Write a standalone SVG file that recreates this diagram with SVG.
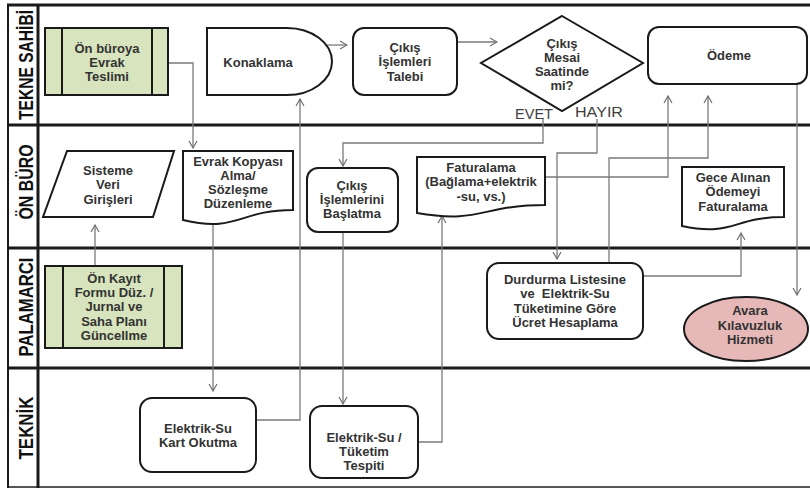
<svg xmlns="http://www.w3.org/2000/svg" width="810" height="492" viewBox="0 0 810 492">
  <defs>
    <marker id="arrow" viewBox="0 0 9 10" markerWidth="9" markerHeight="10" refX="8" refY="5" orient="auto" markerUnits="userSpaceOnUse">
      <path d="M1,1 L8,5 L1,9" fill="none" stroke="#707070" stroke-width="1.2"/>
    </marker>
    <style>
      .lane { stroke: #1a1a1a; stroke-width: 3; fill: none; }
      .edge { stroke: #1a1a1a; stroke-width: 2; fill: none; }
      .lbl { font-family: "Liberation Sans", Arial, sans-serif; font-weight: bold; font-size: 20px; fill: #111; text-anchor: middle; }
      .box { fill: #fff; stroke: #1a1a1a; stroke-width: 2; }
      .green { fill: #d7e4bd; stroke: #1a1a1a; stroke-width: 2; }
      .pink { fill: #e6b9b8; stroke: #1a1a1a; stroke-width: 2; }
      .t { font-family: "Liberation Sans", Arial, sans-serif; font-weight: bold; font-size: 13px; fill: #333; text-anchor: middle; white-space: pre; }
      .yn { font-family: "Liberation Sans", Arial, sans-serif; font-size: 15.5px; fill: #404040; }
      .c { stroke: #7a7a7a; stroke-width: 1.3; fill: none; }
      .ca { stroke: #7a7a7a; stroke-width: 1.3; fill: none; marker-end: url(#arrow); }
    </style>
  </defs>
  <rect width="810" height="492" fill="#fff"/>

  <!-- swimlane frame -->
  <g id="lanes">
    <line class="lane" x1="7" y1="5" x2="810" y2="5"/>
    <line class="lane" x1="7" y1="125" x2="810" y2="125"/>
    <line class="lane" x1="7" y1="248" x2="810" y2="248"/>
    <line class="lane" x1="7" y1="368" x2="810" y2="368"/>
    <line x1="7" y1="487" x2="810" y2="487" stroke="#555" stroke-width="2"/>
    <line class="edge" x1="8" y1="4" x2="8" y2="488"/>
    <line class="lane" x1="38" y1="4" x2="38" y2="488"/>
    <text class="lbl" transform="translate(33,65) rotate(-90)" textLength="110" lengthAdjust="spacingAndGlyphs">TEKNE SAHİBİ</text>
    <text class="lbl" transform="translate(33,182) rotate(-90)" textLength="75" lengthAdjust="spacingAndGlyphs">ÖN BÜRO</text>
    <text class="lbl" transform="translate(33,307) rotate(-90)" textLength="99" lengthAdjust="spacingAndGlyphs">PALAMARCI</text>
    <text class="lbl" transform="translate(33,428) rotate(-90)" textLength="63" lengthAdjust="spacingAndGlyphs">TEKNİK</text>
  </g>

  <!-- connectors -->
  <g id="connectors">
    <polyline class="ca" points="168,63 193,63 193,148"/>
    <polyline class="ca" points="213,216 213,391"/>
    <polyline class="ca" points="256,420 300,420 300,99"/>
    <polyline class="ca" points="327,45 347,45"/>
    <polyline class="ca" points="457,42 497,42"/>
    <polyline class="ca" points="543,118 543,143 343,143 343,166"/>
    <polyline class="ca" points="597,119 597,153 557,153 557,259"/>
    <polyline class="ca" points="418,442 442,442 442,216"/>
    <polyline class="ca" points="545,177 668,177 668,96"/>
    <polyline class="ca" points="609,263 609,158 708,158 708,96"/>
    <polyline class="ca" points="643,276 741,276 741,233"/>
    <polyline class="ca" points="797,84 797,295"/>
    <polyline class="ca" points="95,266 95,225"/>
    <polyline class="ca" points="343,232 343,404"/>
    <text class="yn" x="515" y="119" textLength="38" lengthAdjust="spacingAndGlyphs">EVET</text>
    <text class="yn" x="575" y="117" textLength="48" lengthAdjust="spacingAndGlyphs">HAYIR</text>
  </g>

  <!-- Tekne Sahibi lane -->
  <g id="on-buroya-evrak">
    <rect class="green" x="45" y="28" width="123" height="67"/>
    <line class="edge" x1="62" y1="28" x2="62" y2="95"/>
    <line class="edge" x1="152" y1="28" x2="152" y2="95"/>
    <text class="t" x="107" y="52.5">Ön büroya</text>
    <text class="t" x="107" y="66.5">Evrak</text>
    <text class="t" x="107" y="80.5">Teslimi</text>
  </g>
  <g id="konaklama">
    <path class="box" d="M207,28 L287,28 A45,33.5 0 0 1 287,95 L207,95 Z"/>
    <text class="t" x="258" y="66.5">Konaklama</text>
  </g>
  <g id="cikis-talebi">
    <rect class="box" x="353" y="28" width="104" height="67" rx="11"/>
    <text class="t" x="405" y="51.5">Çıkış</text>
    <text class="t" x="405" y="66">İşlemleri</text>
    <text class="t" x="405" y="80.5">Talebi</text>
  </g>
  <g id="mesai-karar">
    <polygon class="box" points="562,16 643,63 562,111 481,63"/>
    <text class="t" x="562" y="47.5">Çıkış</text>
    <text class="t" x="562" y="61.5">Mesai</text>
    <text class="t" x="562" y="75.5">Saatinde</text>
    <text class="t" x="562" y="89.5">mi?</text>
  </g>
  <g id="odeme">
    <rect class="box" x="648" y="27" width="159" height="57" rx="11"/>
    <text class="t" x="729" y="59.5">Ödeme</text>
  </g>

  <!-- Ön Büro lane -->
  <g id="sisteme-veri">
    <polygon class="box" points="67,151 174,151 153,217 43,217"/>
    <text class="t" x="108" y="174.5">Sisteme</text>
    <text class="t" x="108" y="189">Veri</text>
    <text class="t" x="108" y="203.5">Girişleri</text>
  </g>
  <g id="evrak-kopyasi">
    <path class="box" d="M183,151 L293,151 L293,210 C238,210 238,233 183,220 Z"/>
    <text class="t" x="238" y="166">Evrak Kopyası</text>
    <text class="t" x="238" y="180">Alma/</text>
    <text class="t" x="238" y="194">Sözleşme</text>
    <text class="t" x="238" y="208">Düzenleme</text>
  </g>
  <g id="cikis-baslatma">
    <rect class="box" x="307" y="168" width="91" height="64" rx="11"/>
    <text class="t" x="352" y="189.5">Çıkış</text>
    <text class="t" x="352" y="203.5">İşlemlerini</text>
    <text class="t" x="352" y="218">Başlatma</text>
  </g>
  <g id="faturalama">
    <path class="box" d="M417,157 L545,157 L545,205 C481,205 481,224 417,213 Z"/>
    <text class="t" x="481" y="171.5">Faturalama</text>
    <text class="t" x="481" y="186">(Bağlama+elektrik</text>
    <text class="t" x="481" y="201">-su, vs.)</text>
  </g>
  <g id="gece-faturalama">
    <path class="box" d="M682,167 L784,167 L784,217 C733,217 733,237 682,226 Z"/>
    <text class="t" x="733" y="181.5">Gece Alınan</text>
    <text class="t" x="733" y="196">Ödemeyi</text>
    <text class="t" x="733" y="210.5">Faturalama</text>
  </g>

  <!-- Palamarcı lane -->
  <g id="on-kayit">
    <rect class="green" x="45" y="266" width="137" height="82"/>
    <line class="edge" x1="63" y1="266" x2="63" y2="348"/>
    <line class="edge" x1="164" y1="266" x2="164" y2="348"/>
    <text class="t" x="114" y="282.5">Ön Kayıt</text>
    <text class="t" x="114" y="296.5">Formu Düz. /</text>
    <text class="t" x="114" y="311">Jurnal ve</text>
    <text class="t" x="114" y="325.5">Saha Planı</text>
    <text class="t" x="114" y="339.5">Güncellme</text>
  </g>
  <g id="durdurma-listesi">
    <rect class="box" x="487" y="263" width="156" height="76" rx="12"/>
    <text class="t" x="565" y="283.5">Durdurma Listesine</text>
    <text class="t" x="565" y="298">ve  Elektrik-Su</text>
    <text class="t" x="565" y="312.5">Tüketimine Göre</text>
    <text class="t" x="565" y="327">Ücret Hesaplama</text>
  </g>
  <g id="avara-kilavuzluk">
    <ellipse class="pink" cx="746" cy="329" rx="62" ry="32"/>
    <text class="t" x="750" y="314.5">Avara</text>
    <text class="t" x="750" y="329.5">Kılavuzluk</text>
    <text class="t" x="750" y="343.5">Hizmeti</text>
  </g>

  <!-- Teknik lane -->
  <g id="kart-okutma">
    <rect class="box" x="140" y="398" width="116" height="74" rx="12"/>
    <text class="t" x="198" y="432.5">Elektrik-Su</text>
    <text class="t" x="198" y="447">Kart Okutma</text>
  </g>
  <g id="tuketim-tespiti">
    <rect class="box" x="310" y="406" width="108" height="72" rx="12"/>
    <text class="t" x="364" y="441.5">Elektrik-Su /</text>
    <text class="t" x="364" y="455.5">Tüketim</text>
    <text class="t" x="364" y="469.5">Tespiti</text>
  </g>
</svg>
